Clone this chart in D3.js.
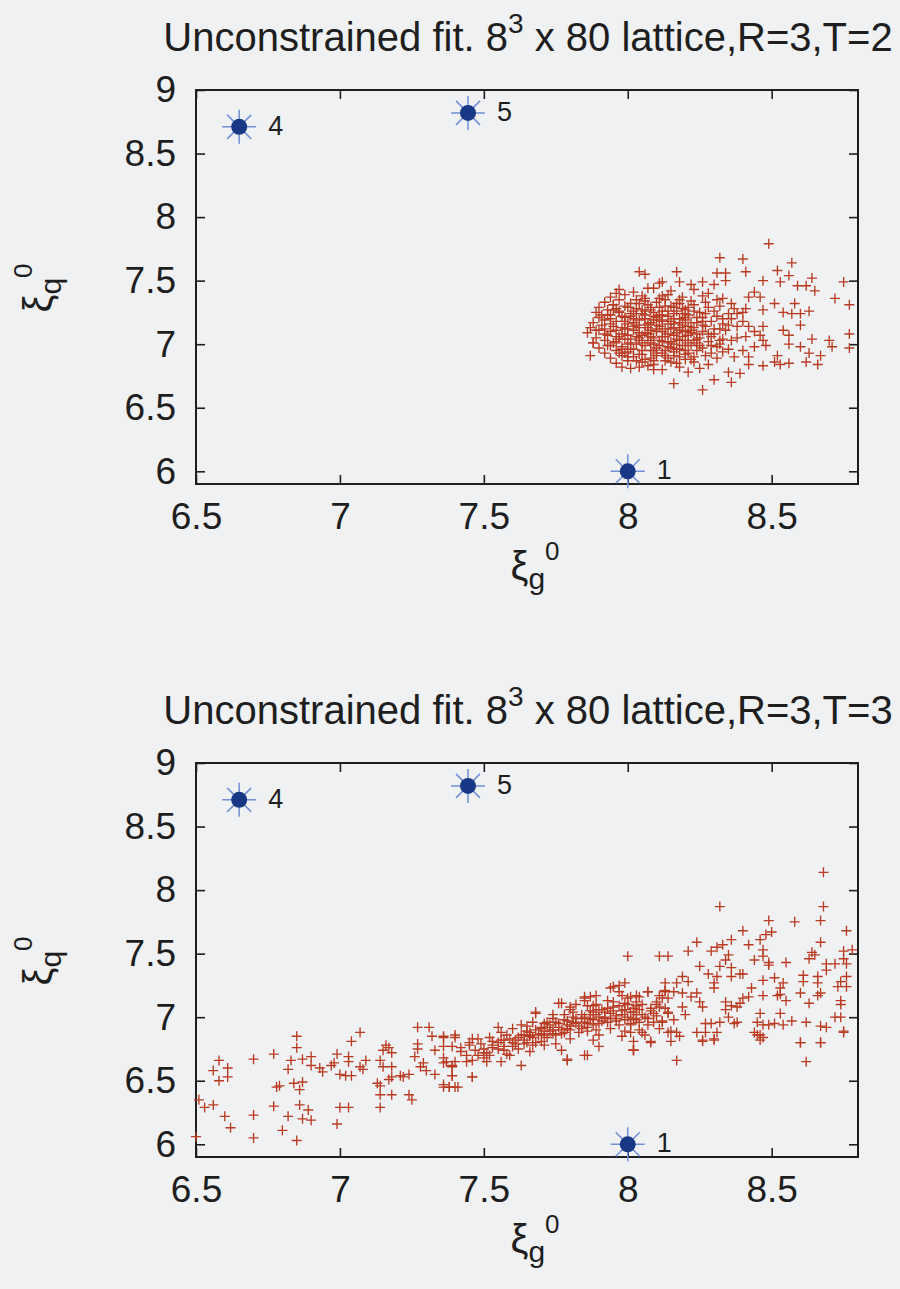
<!DOCTYPE html>
<html><head><meta charset="utf-8">
<script src="https://cdn.jsdelivr.net/npm/d3@7"></script>
<style>
html,body{margin:0;padding:0;background:#eff1f3;}
svg{display:block;}
text{font-family:"Liberation Sans",Arial,Helvetica,sans-serif;}
</style>
</head><body>
<svg id="chart" width="900" height="1289"></svg>
<script>
// ---------- data ----------
const xTicks = [6.5, 7, 7.5, 8, 8.5];
const yTicks = [6, 6.5, 7, 7.5, 8, 8.5, 9];
const xDomain = [6.5, 8.8];
const yDomain = [5.9, 9];
const titleMain = "Unconstrained fit. 8";
const titleSup = "3";
const titleRests = [" x 80 lattice,R=3,T=2", " x 80 lattice,R=3,T=3"];
const refIds = ["1", "4", "5"];
const refX = [8.0, 6.65, 7.445];
const refY = [6.0, 8.71, 8.82];

// fit results, R=3, T=2
const fitsT2 = [
[8.49,7.79],[8.32,7.68],[8.40,7.67],[8.57,7.64],[8.04,7.57],[8.06,7.55],[8.17,7.57],[8.31,7.56],[8.34,7.56],[8.41,7.57],
[8.52,7.58],[8.56,7.54],[8.64,7.52],[8.75,7.49],[8.47,7.50],[8.53,7.49],[8.34,7.50],[8.59,7.46],[8.62,7.46],[8.65,7.42],
[8.72,7.36],[8.77,7.31],[8.51,7.32],[8.58,7.32],[8.54,7.25],[8.57,7.24],[8.60,7.24],[8.63,7.26],[8.47,7.27],[8.60,7.15],
[8.54,7.11],[8.56,7.07],[8.77,7.08],[8.64,7.04],[8.70,7.03],[8.71,6.98],[8.77,6.97],[8.60,6.98],[8.56,7.00],[8.63,6.93],
[8.67,6.91],[8.66,6.84],[8.62,6.86],[8.56,6.85],[8.53,6.84],[8.51,6.86],[8.47,6.83],[8.47,7.03],[8.44,6.98],[8.48,6.99],
[8.52,6.91],[8.42,6.84],[8.39,6.77],[8.36,6.70],[8.30,6.72],[8.26,6.64],[8.16,6.69],[8.35,6.78],[7.87,6.91],[7.88,7.01],
[7.89,7.11],[7.91,7.23],[7.96,7.40],[7.98,6.82],[8.04,6.82],[8.09,6.80],[8.21,6.78],[8.11,7.48],[8.18,7.49],[8.22,7.47],
[8.26,7.49],[8.30,7.47],[8.12,7.49],[8.07,7.44],[8.44,7.41],[8.46,7.37],[8.42,7.37],[8.41,7.28],[8.47,7.14],[8.46,7.07],
[8.42,7.14],[8.38,7.24],[8.38,7.14],[8.38,7.05],[8.40,6.95],[8.37,6.90],[8.42,6.90],
[7.97,7.43],[8.02,7.41],[8.09,7.44],[8.15,7.42],[8.23,7.43],[8.28,7.40],
[7.94,7.37],[7.99,7.39],[8.05,7.38],[8.11,7.36],[8.14,7.39],[8.19,7.37],[8.26,7.38],[8.33,7.36],
[7.92,7.33],[7.97,7.35],[8.01,7.32],[8.06,7.34],[8.10,7.33],[8.13,7.35],[8.18,7.32],[8.22,7.34],[8.27,7.33],[8.31,7.35],[8.36,7.32],
[7.90,7.29],[7.95,7.31],[7.99,7.30],[8.03,7.28],[8.07,7.31],[8.11,7.29],[8.15,7.30],[8.19,7.28],[8.23,7.31],[8.28,7.29],[8.32,7.30],[8.37,7.28],
[7.89,7.25],[7.93,7.27],[7.97,7.26],[8.01,7.24],[8.05,7.27],[8.09,7.25],[8.12,7.26],[8.16,7.24],[8.20,7.27],[8.25,7.25],[8.30,7.26],[8.35,7.24],[8.40,7.25],
[7.90,7.21],[7.94,7.23],[7.98,7.22],[8.02,7.20],[8.06,7.23],[8.10,7.21],[8.14,7.22],[8.18,7.20],[8.21,7.23],[8.26,7.21],[8.31,7.22],[8.36,7.20],
[7.88,7.17],[7.92,7.19],[7.96,7.18],[8.00,7.16],[8.04,7.19],[8.08,7.17],[8.12,7.18],[8.16,7.16],[8.20,7.19],[8.24,7.17],[8.29,7.18],[8.33,7.16],[8.40,7.18],
[7.87,7.13],[7.91,7.15],[7.95,7.14],[7.99,7.12],[8.03,7.15],[8.07,7.13],[8.11,7.14],[8.15,7.12],[8.19,7.15],[8.23,7.13],[8.27,7.14],[8.32,7.12],[8.35,7.15],
[7.86,7.09],[7.90,7.11],[7.94,7.10],[7.98,7.08],[8.02,7.11],[8.06,7.09],[8.10,7.10],[8.14,7.08],[8.18,7.11],[8.22,7.09],[8.26,7.10],[8.30,7.08],[8.34,7.11],[8.44,7.10],
[7.89,7.05],[7.93,7.07],[7.97,7.06],[8.01,7.04],[8.05,7.07],[8.09,7.05],[8.13,7.06],[8.17,7.04],[8.21,7.07],[8.25,7.05],[8.29,7.06],[8.33,7.04],[8.41,7.06],
[7.88,7.01],[7.92,7.03],[7.96,7.02],[8.00,7.00],[8.04,7.03],[8.08,7.01],[8.12,7.02],[8.16,7.00],[8.20,7.03],[8.24,7.01],[8.28,7.02],[8.32,7.00],[8.36,7.03],
[7.90,6.97],[7.94,6.99],[7.98,6.98],[8.02,6.96],[8.06,6.99],[8.10,6.97],[8.14,6.98],[8.18,6.96],[8.22,6.99],[8.26,6.97],[8.31,6.98],[8.35,6.96],
[7.92,6.93],[7.96,6.95],[8.00,6.94],[8.04,6.92],[8.08,6.95],[8.12,6.93],[8.16,6.94],[8.20,6.92],[8.24,6.95],[8.29,6.93],[8.33,6.94],
[7.94,6.89],[7.98,6.91],[8.02,6.90],[8.06,6.88],[8.10,6.91],[8.14,6.89],[8.18,6.90],[8.22,6.88],[8.27,6.91],[8.31,6.89],
[7.96,6.85],[8.00,6.87],[8.05,6.86],[8.09,6.84],[8.13,6.87],[8.17,6.85],[8.23,6.86],[8.28,6.84],
[8.01,6.81],[8.07,6.83],[8.12,6.80],[8.18,6.82],[8.25,6.81],
[7.95,7.31],[8.00,7.29],[8.04,7.32],[8.08,7.27],[8.13,7.30],[8.17,7.26],[8.21,7.29],
[7.93,7.23],[7.97,7.25],[8.01,7.22],[8.05,7.24],[8.09,7.19],[8.12,7.23],[8.16,7.20],[8.20,7.24],[8.24,7.21],
[7.94,7.16],[7.98,7.13],[8.02,7.17],[8.06,7.15],[8.10,7.12],[8.14,7.16],[8.18,7.13],[8.22,7.17],[8.26,7.15],
[7.92,7.08],[7.96,7.11],[8.00,7.07],[8.04,7.09],[8.08,7.06],[8.12,7.10],[8.16,7.07],[8.20,7.10],[8.24,7.08],
[7.95,7.01],[7.99,7.04],[8.03,7.00],[8.07,7.03],[8.11,6.99],[8.15,7.02],[8.19,6.99],[8.23,7.03],
[7.97,6.93],[8.01,6.96],[8.05,6.92],[8.09,6.95],[8.13,6.91],[8.17,6.96],[8.21,6.93],
[8.03,6.87],[8.08,6.89],[8.15,6.86],[8.20,6.88],
[7.96,7.28],[7.99,7.21],[8.02,7.26],[8.04,7.13],[8.06,7.20],[8.08,7.29],[8.10,7.15],[8.12,7.06],[8.14,7.26],[8.16,7.13],
[8.18,7.03],[8.20,7.21],[7.97,7.04],[8.00,7.12],[8.03,7.06],[8.05,7.01],[8.07,7.08],[8.09,7.00],[8.11,7.23],[8.13,7.12],
[8.15,6.97],[8.17,7.09],[8.19,7.24],[8.21,7.01],[7.94,7.20],[7.96,7.06],[7.98,6.96],[8.01,7.01],[8.03,7.24],[8.05,6.95],
[8.07,7.16],[8.09,7.22],[8.11,7.03],[8.13,6.95],[8.15,7.18],[8.17,7.32],[8.19,7.06],[8.21,7.14],[8.23,7.26],[8.25,6.99],
[7.92,7.12],[7.93,6.99],[7.95,7.27],[7.99,7.18],[8.00,6.90],[8.02,7.14],[8.04,7.05],[8.06,7.26],[8.08,7.11],[8.10,6.93],
[8.12,7.19],[8.14,7.01],[8.16,7.29],[8.18,7.17],[8.20,6.95],[8.22,7.11],[8.24,7.04],[8.26,7.18],[8.28,7.08],[8.30,7.12],
[8.32,7.03],[8.27,7.24],[8.29,6.99],[8.33,7.20],[8.06,7.36],[8.12,7.38],[8.18,7.35],[8.03,7.35],[8.09,6.87],[8.16,6.91],
[7.99,6.93],[8.23,6.90]
];

// fit results, R=3, T=3
const fitsT3 = [
[6.50,6.06],[6.51,6.35],[6.53,6.29],[6.56,6.31],[6.56,6.58],[6.58,6.66],[6.58,6.50],[6.61,6.53],[6.61,6.60],[6.60,6.22],
[6.62,6.13],[6.70,6.67],[6.70,6.23],[6.70,6.05],[6.77,6.71],[6.78,6.45],[6.79,6.46],[6.77,6.30],[6.82,6.22],[6.80,6.11],
[6.85,6.85],[6.85,6.76],[6.83,6.66],[6.82,6.59],[6.87,6.67],[6.90,6.69],[6.90,6.62],[6.84,6.48],[6.87,6.49],[6.86,6.43],
[6.86,6.31],[6.89,6.27],[6.87,6.20],[6.90,6.19],[6.85,6.03],[6.93,6.60],[6.94,6.57],[6.97,6.62],[6.99,6.71],[6.98,6.64],
[6.99,6.16],[7.00,6.29],[7.03,6.29],[7.00,6.55],[7.02,6.54],[7.04,6.54],[7.03,6.69],[7.03,6.65],[7.04,6.81],[7.07,6.88],
[7.09,6.66],[7.07,6.61],[7.08,6.59],[7.13,6.48],[7.14,6.46],[7.14,6.39],[7.14,6.29],[7.14,6.66],[7.15,6.74],[7.16,6.78],
[7.17,6.76],[7.18,6.72],[7.15,6.61],[7.18,6.61],[7.18,6.53],[7.17,6.51],[7.18,6.39],[7.21,6.54],[7.22,6.53],[7.24,6.55],
[7.24,6.39],[7.25,6.35],[7.26,6.69],[7.27,6.79],[7.27,6.92],[7.31,6.92],[7.32,6.85],[7.27,6.75],[7.28,6.61],[7.30,6.58],
[7.33,6.55],[7.29,6.64],[7.33,6.74],[7.36,6.84],[7.36,6.77],[7.40,6.84],[7.36,6.68],[7.36,6.64],[7.39,6.61],[7.39,6.54],
[7.36,6.45],[7.38,6.45],[7.41,6.45],[7.40,6.65],[7.46,6.53],
[7.36,6.85],[7.40,6.86],[7.39,6.77],[7.37,6.65],[7.39,6.62],[7.42,6.73],[7.44,6.65],[7.45,6.78],[7.46,6.83],[7.39,6.54],
[7.46,6.53],[7.36,6.47],[7.40,6.45],[7.38,6.45],[7.48,6.70],[7.50,6.75],[7.51,6.65],[7.52,6.70],[7.53,6.81],[7.55,6.92],
[7.56,6.82],[7.57,6.74],[7.58,6.86],[7.56,6.65],[7.59,6.70],[7.60,6.77],[7.60,6.91],[7.61,6.82],[7.63,6.62],[7.64,6.86],
[7.65,6.89],[7.66,6.85],[7.67,6.96],[7.68,7.03],[7.70,6.91],[7.64,6.79],[7.67,6.78],[7.66,6.73],[7.70,6.81],[7.71,6.86],
[7.63,6.94],[7.72,6.96],[7.73,6.89],[7.74,6.99],[7.75,6.86],[7.77,7.11],[7.78,7.02],[7.79,6.91],[7.80,6.83],[7.81,7.04],
[7.81,6.96],[7.75,6.79],[7.79,6.66],[7.71,6.78],[7.77,6.74],[7.82,7.10],[7.84,6.99],[7.85,7.15],[7.86,6.89],[7.87,7.02],
[7.88,6.94],[7.89,7.10],[7.90,6.86],[7.92,6.99],[7.93,7.07],[7.86,6.70],[7.90,6.77],[7.89,7.17],[7.88,6.82],[7.94,7.23],
[7.95,7.12],[7.96,6.99],[7.97,7.20],[7.99,6.89],[8.00,7.10],[8.01,6.94],[8.02,7.04],[8.03,7.17],[8.04,6.96],[8.02,6.74],
[8.02,6.81],[7.98,6.85],[8.06,6.86],[8.07,7.20],[8.08,7.07],[8.09,6.96],[8.10,7.12],[8.11,6.91],[8.13,7.20],[8.14,7.04],
[8.15,6.89],[8.08,6.81],[8.12,7.15],
[7.47,6.74],[7.49,6.79],[7.51,6.72],[7.53,6.76],[7.55,6.80],[7.57,6.77],[7.59,6.83],[7.61,6.79],[7.63,6.86],[7.64,6.82],
[7.66,6.88],[7.67,6.84],[7.69,6.86],[7.70,6.92],[7.71,6.89],[7.73,6.94],[7.74,6.90],[7.75,6.96],[7.76,6.92],[7.78,6.98],
[7.79,6.94],[7.80,6.90],[7.81,7.00],[7.82,6.95],[7.84,7.02],[7.85,6.96],[7.86,6.92],[7.87,7.05],[7.88,6.98],[7.89,7.02],
[7.90,6.95],[7.91,7.06],[7.92,7.00],[7.93,6.96],[7.94,7.03],[7.95,7.08],[7.96,7.01],[7.97,6.94],[7.98,7.05],[7.99,7.11],
[8.00,7.00],[8.01,6.95],[8.02,7.07],[8.03,7.02],[8.05,7.10],[8.06,7.00],[8.07,6.94],[8.08,7.05],[8.10,7.01],[8.11,7.08],
[8.12,6.97],[8.14,7.03],[7.72,6.84],[7.68,6.80],[7.62,6.75],[7.58,6.71],[7.77,6.87],[7.83,6.88],[7.89,6.90],[7.94,6.91],
[8.04,6.90],[7.52,6.84],[7.56,6.88],[7.65,6.93],[7.74,7.02],[7.80,7.06],[7.86,7.09],[7.93,7.13],[8.00,7.15],[7.44,6.70],
[7.46,6.66],[7.50,6.68],[7.42,6.76],[7.45,6.80],[7.48,6.83],
[7.62,6.84],[7.65,6.80],[7.68,6.90],[7.70,6.87],[7.72,6.92],[7.74,6.87],[7.76,6.95],[7.77,6.90],[7.79,6.97],[7.80,6.93],
[7.82,6.99],[7.83,6.93],[7.85,7.00],[7.86,6.95],[7.87,6.99],[7.88,7.04],[7.90,7.00],[7.91,6.97],[7.92,7.04],[7.94,6.99],
[7.95,7.05],[7.96,6.97],[7.98,7.02],[7.99,6.98],[8.01,7.04],[8.02,6.99],[8.04,7.06],[8.05,7.02],[7.55,6.75],[7.57,6.82],
[7.60,6.80],[7.50,6.72],[7.53,6.78],[7.78,6.88],[7.84,6.91],[7.90,7.06],[7.97,7.09],[8.03,7.12],[8.09,7.03],[8.13,7.07],
[7.71,6.95],[7.66,6.86],
[8.00,7.48],[7.97,7.25],[7.79,6.67],[7.85,6.70],[8.02,6.74],[7.76,7.11],[7.68,7.04],[7.85,7.16],[7.95,7.24],[7.99,7.27],[8.07,7.20],
[8.68,8.14],[8.68,7.87],[8.32,7.87],[8.67,7.76],[8.76,7.68],[8.58,7.75],[8.49,7.76],[8.50,7.67],[8.48,7.65],[8.46,7.61],
[8.40,7.68],[8.36,7.61],[8.42,7.57],[8.24,7.59],[8.31,7.55],[8.33,7.57],[8.21,7.52],[8.29,7.52],[8.35,7.49],[8.34,7.45],
[8.47,7.53],[8.47,7.48],[8.49,7.43],[8.49,7.41],[8.44,7.45],[8.55,7.43],[8.67,7.59],[8.64,7.51],[8.65,7.49],[8.63,7.46],
[8.78,7.53],[8.75,7.52],[8.75,7.46],[8.76,7.42],[8.69,7.42],[8.72,7.42],[8.69,7.37],[8.76,7.32],[8.74,7.28],[8.76,7.24],
[8.73,7.24],[8.66,7.32],[8.66,7.27],[8.67,7.19],[8.66,7.17],[8.61,7.33],[8.61,7.28],[8.60,7.19],[8.63,7.11],[8.74,7.13],
[8.74,7.10],[8.72,7.00],[8.74,7.00],[8.75,6.89],[8.67,6.93],[8.69,6.92],[8.62,6.96],[8.60,6.80],[8.67,6.80],[8.57,6.97],
[8.54,6.94],[8.55,7.13],[8.54,7.27],[8.53,7.23],[8.53,7.18],[8.51,7.31],[8.52,7.17],[8.53,7.03],[8.51,6.95],[8.47,7.17],
[8.47,7.29],[8.43,7.23],[8.42,7.16],[8.40,7.15],[8.39,7.11],[8.38,7.08],[8.46,7.03],[8.45,6.96],[8.44,6.88],[8.46,6.86],
[8.46,6.82],[8.47,6.94],[8.49,6.94],[8.39,7.34],[8.40,7.34],[8.36,7.32],[8.36,7.39],[8.32,7.40],[8.28,7.34],[8.31,7.32],
[8.25,7.40],[8.30,7.27],[8.30,7.23],[8.34,7.12],[8.36,7.09],[8.34,7.06],[8.32,6.96],[8.35,7.00],[8.37,6.95],[8.38,6.96],
[8.26,7.08],[8.25,7.12],[8.24,7.19],[8.27,6.95],[8.29,6.95],[8.31,6.88],[8.27,6.88],[8.24,6.88],[8.30,6.82],[8.26,6.82],
[8.20,7.02],[8.19,7.08],[8.22,7.16],[8.19,7.19],[8.21,7.28],[8.19,7.32],[8.17,7.27],[8.16,7.20],[8.13,7.27],[8.13,7.21],
[8.14,7.15],[8.11,7.17],[8.10,7.10],[8.12,6.96],[8.14,6.88],[8.17,6.88],[8.16,6.98],[8.04,7.16],[8.03,7.09],
[8.11,7.48],[8.14,7.48],[7.98,7.17],[8.01,7.16],[7.99,7.06],[8.03,6.98],[8.07,6.99],[8.01,6.88],[8.05,6.88],[7.87,7.16],
[7.85,7.13],[7.88,7.09],[7.80,7.08],
[8.08,6.80],[8.02,6.74],[8.17,6.66],[8.15,6.81],[8.18,6.85],[8.26,6.81],[8.30,6.83],[8.45,6.86],[8.47,6.84],[8.60,6.80],
[8.67,6.80],[8.62,6.65],[8.75,6.88]
];

const panels = [
  {top: 90, fits: fitsT2, rest: titleRests[0]},
  {top: 763, fits: fitsT3, rest: titleRests[1]}
];

// ---------- drawing ----------
const svg = d3.select("#chart");
svg.append("rect").attr("width", 900).attr("height", 1289).attr("fill", "#eff1f3");

const L = 196, R = 858, H = 394;
const ink = "#1e1e1e";
const font = "'Liberation Sans', Arial, Helvetica, sans-serif";

const refs = refIds.map((id, i) => ({id, x: refX[i], y: refY[i]}));

panels.forEach(p => {
  const g = svg.append("g");
  const x = d3.scaleLinear().domain(xDomain).range([L, R]);
  const y = d3.scaleLinear().domain(yDomain).range([p.top + H, p.top]);

  const styleAxis = sel => {
    sel.select(".domain").remove();
    sel.selectAll(".tick line").attr("stroke", ink).attr("stroke-width", 1.6);
    sel.selectAll(".tick text").attr("fill", ink).attr("font-size", 37).attr("font-family", font);
  };
  g.append("g").attr("transform", `translate(0,${p.top + H})`)
    .call(d3.axisBottom(x).tickValues(xTicks).tickSizeInner(-9).tickSizeOuter(0).tickPadding(19).tickFormat(d3.format("")))
    .call(styleAxis);
  g.append("g").attr("transform", `translate(0,${p.top})`)
    .call(d3.axisTop(x).tickValues(xTicks).tickSizeInner(-9).tickSizeOuter(0).tickFormat(""))
    .call(styleAxis);
  g.append("g").attr("transform", `translate(${L},0)`)
    .call(d3.axisLeft(y).tickValues(yTicks).tickSizeInner(-9).tickSizeOuter(0).tickPadding(20).tickFormat(d3.format("")))
    .call(styleAxis);
  g.append("g").attr("transform", `translate(${R},0)`)
    .call(d3.axisRight(y).tickValues(yTicks).tickSizeInner(-9).tickSizeOuter(0).tickFormat(""))
    .call(styleAxis);

  g.append("rect").attr("x", L).attr("y", p.top).attr("width", R - L).attr("height", H)
    .attr("fill", "none").attr("stroke", ink).attr("stroke-width", 2);

  g.append("g").selectAll("path").data(p.fits).join("path")
    .attr("d", "M-5,0H5M0,-5V5")
    .attr("transform", d => `translate(${x(d[0])},${y(d[1])})`)
    .attr("stroke", "#b93b22").attr("stroke-width", 1.35).attr("fill", "none");

  const rg = g.append("g").selectAll("g").data(refs).join("g")
    .attr("transform", d => `translate(${x(d.x)},${y(d.y)})`);
  rg.append("path").attr("d", "M-17,0H17M0,-17V17M-12,-12L12,12M-12,12L12,-12")
    .attr("stroke", "#7390d6").attr("stroke-width", 1.5).attr("fill", "none");
  rg.append("circle").attr("r", 8).attr("fill", "#183886");
  rg.append("text").attr("x", 29).attr("y", 8).attr("font-size", 27).attr("fill", ink)
    .attr("font-family", font).text(d => d.id);

  const t = g.append("text").attr("x", 528).attr("y", p.top - 39).attr("text-anchor", "middle")
    .attr("font-size", 40).attr("fill", ink).attr("font-family", font);
  t.append("tspan").text(titleMain);
  t.append("tspan").attr("font-size", 28).attr("dy", -18).text(titleSup);
  t.append("tspan").attr("dy", 18).text(p.rest);

  const xl = g.append("text").attr("x", 535).attr("y", p.top + H + 96).attr("text-anchor", "middle")
    .attr("font-size", 40).attr("fill", ink).attr("font-family", font);
  xl.append("tspan").text("ξ");
  xl.append("tspan").attr("font-size", 30).attr("dy", 9).text("g");
  xl.append("tspan").attr("font-size", 26).attr("dy", -29).text("0");

  const yl = g.append("text").attr("transform", `translate(52,${p.top + 198}) rotate(-90)`)
    .attr("text-anchor", "middle").attr("font-size", 40).attr("fill", ink).attr("font-family", font);
  yl.append("tspan").text("ξ");
  yl.append("tspan").attr("font-size", 30).attr("dy", 9).text("q");
  yl.append("tspan").attr("font-size", 26).attr("dy", -29).text("0");
});
</script>
</body></html>
